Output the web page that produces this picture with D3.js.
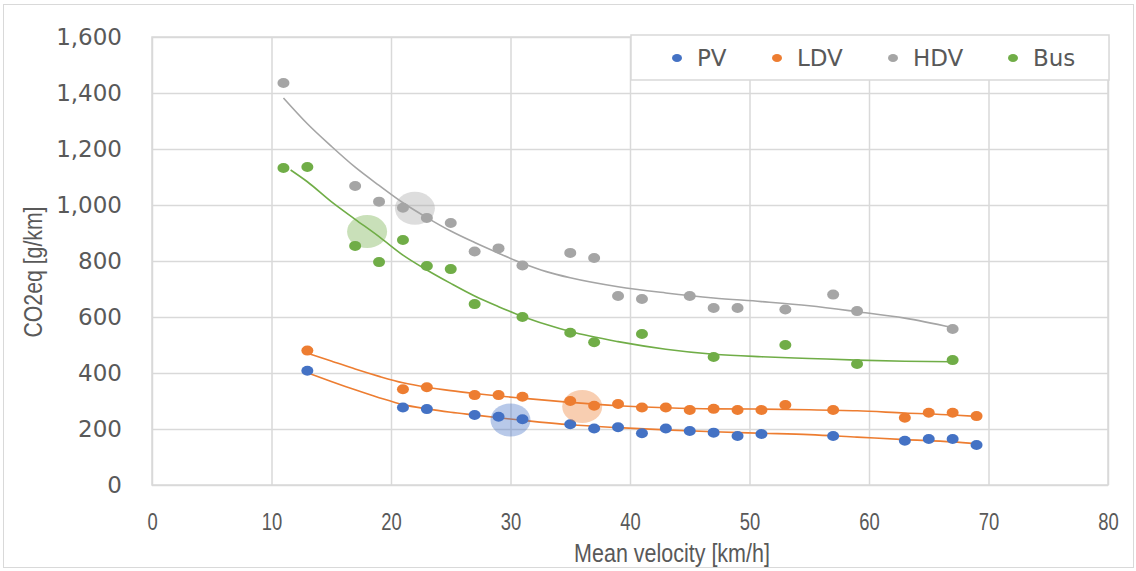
<!DOCTYPE html>
<html>
<head>
<meta charset="utf-8">
<script src="https://cdn.jsdelivr.net/npm/d3@7"></script>
<style>
  body { margin: 0; background: #fff; }
  .grid line { stroke: #d9d9d9; stroke-width: 1.5; }
  .grid .domain { display: none; }
  .y.grid text { font-family: "DejaVu Sans", sans-serif; font-size: 23px; fill: #595959; }
  .x.grid text { font-family: "Liberation Sans", sans-serif; font-size: 23px; fill: #595959; }
</style>
</head>
<body>
<div id="chart-area"></div>
<script>
// series data
const pvSpeed = [13, 21, 23, 27, 29, 31, 35, 37, 39, 41, 43, 45, 47, 49, 51, 57, 63, 65, 67, 69];
const pvCo2 = [408, 277, 271, 250, 244, 235, 217, 202, 206, 185, 202, 193, 187, 175, 182, 175, 158, 164, 164, 143];

const ldvSpeed = [13, 21, 23, 27, 29, 31, 35, 37, 39, 41, 43, 45, 47, 49, 51, 53, 57, 63, 65, 67, 69];
const ldvCo2 = [480, 342, 349, 321, 321, 315, 300, 283, 289, 277, 277, 268, 272, 268, 268, 286, 268, 240, 258, 258, 246];

const hdvSpeed = [11, 17, 19, 21, 23, 25, 27, 29, 31, 35, 37, 39, 41, 45, 47, 49, 53, 57, 59, 67];
const hdvCo2 = [1436, 1068, 1012, 990, 954, 936, 834, 845, 784, 829, 811, 675, 664, 675, 632, 632, 627, 680, 621, 557];

const busSpeed = [11, 13, 17, 19, 21, 23, 25, 27, 31, 35, 37, 41, 47, 53, 59, 67];
const busCo2 = [1132, 1136, 854, 796, 875, 782, 771, 646, 600, 544, 510, 539, 457, 500, 432, 446];

// trendlines
const pvTrendX = [13, 15, 17, 19, 21, 23, 25, 27, 29, 31, 35, 39, 43, 47, 51, 55, 59, 63, 67, 69];
const pvTrendY = [401, 370, 340, 312, 287, 272, 260, 250, 240, 231, 215, 205, 197, 190, 185, 180, 171, 162, 154, 147];
const ldvTrendX = [13, 15, 17, 19, 21, 23, 25, 27, 29, 31, 35, 39, 43, 47, 51, 55, 59, 63, 67, 69];
const ldvTrendY = [471, 443, 414, 388, 365, 349, 337, 327, 318, 310, 295, 283, 276, 272, 271, 269, 265, 257, 250, 245];
const hdvTrendX = [11, 13, 15, 17, 19, 21, 23, 25, 27, 29, 31, 33, 35, 39, 43, 47, 51, 55, 59, 63, 67];
const hdvTrendY = [1382, 1290, 1210, 1135, 1070, 1008, 955, 907, 866, 828, 792, 762, 740, 708, 686, 668, 655, 640, 619, 596, 562];
const busTrendX = [11.6, 13, 15, 17, 19, 21, 23, 25, 27, 29, 31, 33, 35, 39, 43, 47, 51, 55, 59, 63, 67];
const busTrendY = [1125, 1083, 1012, 949, 887, 821, 768, 720, 675, 637, 602, 573, 548, 512, 485, 467, 458, 452, 446, 442, 440];

// highlighted points (translucent blobs)
const highlightSeries = ["HDV", "Bus", "PV", "LDV"];
const highlightSpeed = [22, 18, 30, 36];
const highlightCo2 = [988, 905, 232, 280];

const seriesNames = ["PV", "LDV", "HDV", "Bus"];
const seriesColors = ["#4472c4", "#ed7d31", "#a5a5a5", "#70ad47"];
const xTicks = [0, 10, 20, 30, 40, 50, 60, 70, 80];
const yTicks = [0, 200, 400, 600, 800, 1000, 1200, 1400, 1600];

const margin = { left: 152, right: 28, top: 37, bottom: 86 };
const W = 1136, H = 571;
const width = W - margin.left - margin.right,
  height = H - margin.top - margin.bottom;

const svg = d3.select("#chart-area")
  .append("svg")
  .attr("width", W)
  .attr("height", H);

// outer chart border
svg.append("rect")
  .attr("x", 3.5).attr("y", 4.5)
  .attr("width", W - 6).attr("height", H - 8)
  .attr("fill", "#fff")
  .attr("stroke", "#d9d9d9");

const g = svg.append("g")
  .attr("transform", "translate(" + margin.left + ", " + margin.top + ")");

const x = d3.scaleLinear().domain([0, 80]).range([0, width]);
const y = d3.scaleLinear().domain([0, 1600]).range([height, 0]);
const color = d3.scaleOrdinal().domain(seriesNames).range(seriesColors);

// gridlines + tick labels
g.append("g")
  .attr("class", "x grid")
  .attr("transform", "translate(0, " + height + ")")
  .call(d3.axisBottom(x).tickValues(xTicks).tickSize(-height).tickPadding(29))
  .selectAll("text")
  .attr("transform", "scale(0.8, 1)");

g.append("g")
  .attr("class", "y grid")
  .call(d3.axisLeft(y).tickValues(yTicks).tickFormat(d3.format(",")).tickSize(-width).tickPadding(30));

g.append("rect")
  .attr("width", width)
  .attr("height", height)
  .attr("fill", "none")
  .attr("stroke", "#d9d9d9")
  .attr("stroke-width", 1.5);

// axis titles (narrowed, the original font is condensed)
svg.append("text")
  .attr("transform", "translate(672, " + (margin.top + height + 77) + ") scale(0.86, 1)")
  .attr("text-anchor", "middle")
  .attr("font-family", "'Liberation Sans', sans-serif")
  .attr("font-size", "25px")
  .attr("fill", "#595959")
  .text("Mean velocity [km/h]");

svg.append("text")
  .attr("transform", "translate(42, 272) rotate(-90) scale(0.85, 1)")
  .attr("text-anchor", "middle")
  .attr("font-family", "'Liberation Sans', sans-serif")
  .attr("font-size", "25px")
  .attr("fill", "#595959")
  .text("CO2eq [g/km]");

const series = [
  { name: "PV", xs: pvSpeed, ys: pvCo2, tx: pvTrendX, ty: pvTrendY, trendColor: "#ed7d31" },
  { name: "LDV", xs: ldvSpeed, ys: ldvCo2, tx: ldvTrendX, ty: ldvTrendY, trendColor: "#ed7d31" },
  { name: "HDV", xs: hdvSpeed, ys: hdvCo2, tx: hdvTrendX, ty: hdvTrendY, trendColor: "#a5a5a5" },
  { name: "Bus", xs: busSpeed, ys: busCo2, tx: busTrendX, ty: busTrendY, trendColor: "#70ad47" },
];

const line = d3.line()
  .x((d) => x(d[0]))
  .y((d) => y(d[1]))
  .curve(d3.curveMonotoneX);

series.forEach((s) => {
  g.append("path")
    .datum(s.tx.map((v, i) => [v, s.ty[i]]))
    .attr("d", line)
    .attr("fill", "none")
    .attr("stroke", s.trendColor)
    .attr("stroke-width", 1.6);
});

series.forEach((s) => {
  g.selectAll(null)
    .data(s.xs.map((v, i) => [v, s.ys[i]]))
    .enter()
    .append("ellipse")
    .attr("cx", (d) => x(d[0]))
    .attr("cy", (d) => y(d[1]))
    .attr("rx", 6)
    .attr("ry", 5)
    .attr("fill", color(s.name));
});

// highlight blobs drawn over the points
g.selectAll(".blob")
  .data(highlightSpeed.map((v, i) => ({ v, c: highlightCo2[i], s: highlightSeries[i] })))
  .enter()
  .append("ellipse")
  .attr("class", "blob")
  .attr("cx", (d) => x(d.v))
  .attr("cy", (d) => y(d.c))
  .attr("rx", 20)
  .attr("ry", 16.5)
  .attr("fill", (d) => color(d.s))
  .attr("fill-opacity", 0.38);

// legend box
const legend = svg.append("g").attr("transform", "translate(631, 35)");
legend.append("rect")
  .attr("width", 478)
  .attr("height", 45)
  .attr("fill", "#fff")
  .attr("stroke", "#d9d9d9")
  .attr("stroke-width", 1.5);

const legendX = [46, 146, 262, 382];
const items = legend.selectAll(".item")
  .data(seriesNames)
  .enter()
  .append("g")
  .attr("class", "item")
  .attr("transform", (d, i) => "translate(" + legendX[i] + ", 23)");

items.append("ellipse")
  .attr("rx", 5)
  .attr("ry", 4)
  .attr("fill", (d) => color(d));

items.append("text")
  .attr("x", 20)
  .attr("y", 8)
  .attr("font-family", "'DejaVu Sans', sans-serif")
  .attr("font-size", "23px")
  .attr("fill", "#595959")
  .text((d) => d);
</script>
</body>
</html>
